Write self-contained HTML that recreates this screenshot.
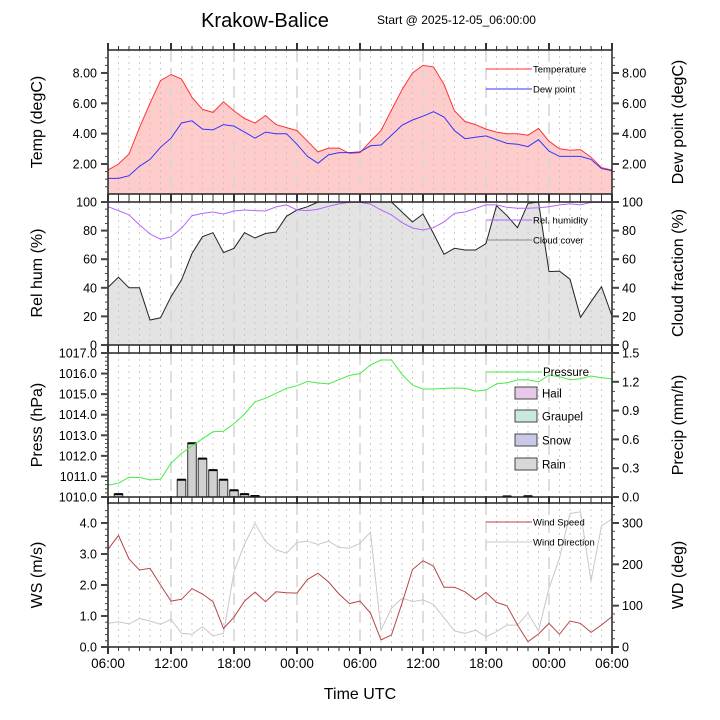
<!DOCTYPE html>
<html><head><meta charset="utf-8"><style>
html,body{margin:0;padding:0;background:#fff;}
svg{display:block;font-family:"Liberation Sans",sans-serif;}
</style></head><body>
<svg id="s" width="720" height="720" xmlns="http://www.w3.org/2000/svg"></svg>
<script>
const S=document.getElementById('s');let h='';
const X0=108,DX=10.5;const xs=i=>X0+DX*i;
const P=[[50,194],[202,345],[353,497],[503,647]];
const T=[1.6,2.0,2.66,4.4,6.0,7.5,7.9,7.6,6.4,5.6,5.4,6.1,5.5,5.0,4.7,5.2,4.6,4.4,4.2,3.5,2.8,3.05,3.05,2.7,2.75,3.5,4.2,5.56,6.9,8.0,8.5,8.4,7.25,5.5,4.8,4.6,4.3,4.1,4.0,4.0,3.9,4.35,3.5,3.0,2.9,2.95,2.45,1.76,1.6];
const D=[1.05,1.05,1.23,1.85,2.3,3.1,3.7,4.7,4.85,4.3,4.25,4.6,4.5,4.1,3.7,4.1,4.0,4.0,3.3,2.5,2.05,2.6,2.75,2.75,2.8,3.2,3.25,3.9,4.55,4.9,5.15,5.45,5.1,4.2,3.67,3.76,3.85,3.6,3.36,3.3,3.15,3.6,2.85,2.5,2.5,2.5,2.3,1.7,1.55];
const RH=[96.7,94,91,84,77.6,74,75.6,81.6,90.4,92,93,91.6,93.7,94.4,94,93.7,96.6,98,94.4,94,95,97,98.7,99.8,99.8,98.5,94.4,91,85.5,81.8,80.4,82,86,92,93,95.6,98,98,96.3,95.6,95.6,96,96.7,98,98.7,98,99.7,99.7,99.7];
const CC=[40.3,47.4,40,40,17.5,19,33.8,45.5,64,75.7,78.5,64.6,67.6,78.5,74.8,78,79,90,94.4,96.7,100,100,100,100,100,100,100,100,93,86,91.6,78,63.4,67.6,66.4,66.4,71,97.4,90.4,82,99,100,51.3,51.7,46,19.4,30.3,40.8,20.3];
const PR=[1010.57,1010.67,1010.96,1010.95,1010.83,1010.86,1011.64,1012.12,1012.48,1012.83,1013.17,1013.2,1013.57,1014.03,1014.63,1014.8,1015.04,1015.28,1015.41,1015.62,1015.54,1015.5,1015.7,1015.91,1016.0,1016.42,1016.66,1016.66,1015.96,1015.44,1015.25,1015.25,1015.28,1015.3,1015.28,1015.15,1015.2,1015.5,1015.55,1015.69,1015.7,1015.59,1015.93,1015.85,1015.7,1015.75,1015.88,1015.8,1015.75];
const RN={1:0.03,7:0.18,8:0.56,9:0.4,10:0.28,11:0.18,12:0.07,13:0.03,14:0.01,38:0.006,40:0.008};
const WS=[3.15,3.6,2.84,2.48,2.54,2.0,1.48,1.54,1.88,1.71,1.46,0.6,0.96,1.48,1.77,1.46,1.78,1.75,1.74,2.18,2.38,2.1,1.71,1.4,1.48,1.09,0.23,0.39,1.41,2.5,2.78,2.61,1.93,1.93,1.78,1.52,1.76,1.44,1.33,0.71,0.17,0.42,0.76,0.41,0.84,0.76,0.47,0.71,0.98];
const WD=[57,61,56,69,63,55,67,33,31,49,27,33,182,249,299,255,235,227,253,256,248,256,241,239,251,278,41,94,118,110,114,103,71,39,33,41,25,37,53,53,82,39,142,215,323,327,160,293,310];
const ln=(a,c,w)=>'<polyline fill="none" stroke="'+c+'" stroke-width="'+(w||1)+'" points="'+a.map((y,i)=>xs(i).toFixed(1)+','+y.toFixed(1)).join(' ')+'"/>';
const fill=(a,b,c)=>{let p=a.map((y,i)=>xs(i)+','+y).join(' ')+' '+b.map((y,i)=>xs(i)+','+y).reverse().join(' ');return '<polygon fill="'+c+'" points="'+p+'"/>';};
const y1=v=>164-(v-2)*15.17, y2=v=>202+(100-v)*1.43, y3=v=>353+(1017-v)*144/7, y3r=v=>497-v*96, y4=v=>647-v*31, y4d=v=>647-v*124/300;
// panel fills first
h+=fill(T.map(y1),Array(49).fill(194),'#ffcccc');
h+=fill(CC.map(y2),Array(49).fill(345),'#e3e3e3');
// grids
P.forEach(([t,b])=>{for(let i=0;i<=48;i++){let x=xs(i);if(i%6==0){if(i%48)h+=`<line x1="${x}" y1="${t}" x2="${x}" y2="${b}" stroke="#d6d6d6" stroke-opacity="0.8" stroke-width="2" stroke-dasharray="12,6"/>`;}else h+=`<line x1="${x}" y1="${t}" x2="${x}" y2="${b}" stroke="#c0c0c0" stroke-opacity="0.8" stroke-width="1" stroke-dasharray="2,4"/>`;}});
h+=ln(T.map(y1),'#ff3333');h+=ln(D.map(y1),'#3333ff');
h+=ln(CC.map(y2),'#222');h+=ln(RH.map(y2),'#b266ff');
// panel3
for(const k in RN){let x=xs(+k)-4.3,y=y3r(RN[k]);h+=`<rect x="${x}" y="${y}" width="8.6" height="${497-y}" fill="#d0d0d0" stroke="#333" stroke-width="1"/><line x1="${x}" y1="${y}" x2="${x+8.6}" y2="${y}" stroke="#000" stroke-width="2"/>`;}
h+=ln(PR.map(y3),'#44ee44');
// panel4
h+=ln(WD.map(y4d),'#c8c8c8');h+=ln(WS.map(y4),'#b84444');
// frames & ticks
P.forEach(([t,b])=>{h+=`<rect x="${X0}" y="${t}" width="504" height="${b-t}" fill="none" stroke="#222" stroke-width="1.5"/>`;
for(let i=0;i<=48;i++){let x=xs(i),L=i%6==0?7:4,w=i%6==0?2:1;h+=`<line x1="${x}" y1="${t}" x2="${x}" y2="${t-L}" stroke="#333" stroke-width="${w}"/><line x1="${x}" y1="${b}" x2="${x}" y2="${b+L}" stroke="#333" stroke-width="${w}"/>`;}});
const tk=(x,y,L,w)=>`<line x1="${x}" y1="${y}" x2="${x-L}" y2="${y}" stroke="#444" stroke-width="${w}"/>`;
const tkr=(x,y,L,w)=>`<line x1="${x}" y1="${y}" x2="${x+L}" y2="${y}" stroke="#444" stroke-width="${w}"/>`;
const txt=(x,y,s,a,sz,extra)=>`<text x="${x}" y="${y}" font-size="${sz||12.5}" text-anchor="${a||'end'}" ${extra||''}>${s}</text>`;
for(let v=0.5;v<9.5;v+=0.5){let y=y1(v);let M=Math.abs(v%2)<0.01;h+=tk(X0,y,M?7:3,M?2:1)+tkr(612,y,M?7:3,M?2:1);if(M){h+=txt(97,y+4.5,v.toFixed(2))+txt(622,y+4.5,v.toFixed(2),'start');}}
for(let v=0;v<=100;v+=5){let y=y2(v);let M=v%20==0;h+=tk(X0,y,M?7:3,M?2:1)+tkr(612,y,M?7:3,M?2:1);if(M){h+=txt(97,y+4.5,v)+txt(622,y+4.5,v,'start');}}
for(let v=1010;v<=1017.001;v+=0.2){let y=y3(v);let M=Math.abs(v-Math.round(v))<0.01;h+=tk(X0,y,M?7:3,M?2:1);if(M)h+=txt(97,y+4.5,Math.round(v)+'.0');}
for(let v=0;v<=1.5001;v+=0.1){let y=y3r(v);let M=Math.round(v*10)%3==0;h+=tkr(612,y,M?7:3,M?2:1);if(M)h+=txt(622,y+4.5,v.toFixed(1),'start');}
for(let v=0;v<=4.6;v+=0.2){let y=y4(v);let M=Math.round(v*10)%10==0;h+=tk(X0,y,M?7:3,M?2:1);if(M)h+=txt(97,y+4.5,v.toFixed(1));}
for(let v=0;v<=340;v+=20){let y=y4d(v);let M=v%100==0;h+=tkr(612,y,M?7:3,M?2:1);if(M)h+=txt(622,y+4.5,v,'start');}
['06:00','12:00','18:00','00:00','06:00','12:00','18:00','00:00','06:00'].forEach((s,i)=>h+=txt(xs(i*6),668,s,'middle',13.5));
h+=txt(360,699,'Time UTC','middle',16);
h+=txt(265,27,'Krakow-Balice','middle',20);h+=txt(377,24,'Start @ 2025-12-05_06:00:00','start',12);
const rt=(x,y,s,r)=>`<text x="${x}" y="${y}" font-size="16" text-anchor="middle" transform="rotate(${r} ${x} ${y})">${s}</text>`;
h+=rt(42,122,'Temp (degC)',-90)+rt(42,273,'Rel hum (%)',-90)+rt(42,425,'Press (hPa)',-90)+rt(42,575,'WS (m/s)',-90);
h+=rt(683,122,'Dew point (degC)',-90)+rt(683,273,'Cloud fraction (%)',-90)+rt(683,425,'Precip (mm/h)',-90)+rt(683,575,'WD (deg)',-90);
const lg=(y,c,s)=>`<line x1="486" y1="${y}" x2="532" y2="${y}" stroke="${c}"/>`+txt(533,y+3.5,s,'start',9.5);
h+=lg(69,'#ff3333','Temperature')+lg(89,'#3333ff','Dew point')+lg(220,'#b266ff','Rel. humidity')+lg(240,'#888','Cloud cover');
h+=`<line x1="486" y1="372" x2="542" y2="372" stroke="#44ee44"/>`+txt(543,376,'Pressure','start',11.5);
[['Hail',393,'#e8c8e8'],['Graupel',416,'#c8e8e0'],['Snow',440,'#c8c8e8'],['Rain',464,'#d8d8d8']].forEach(([s,y,c])=>{h+=`<rect x="515" y="${y-6}" width="22" height="12" fill="${c}" stroke="#444"/>`+txt(542,y+4.5,s,'start',11.5);});
h+=lg(522,'#b84444','Wind Speed')+lg(542,'#c8c8c8','Wind Direction');
S.innerHTML=h;
</script>
</body></html>
